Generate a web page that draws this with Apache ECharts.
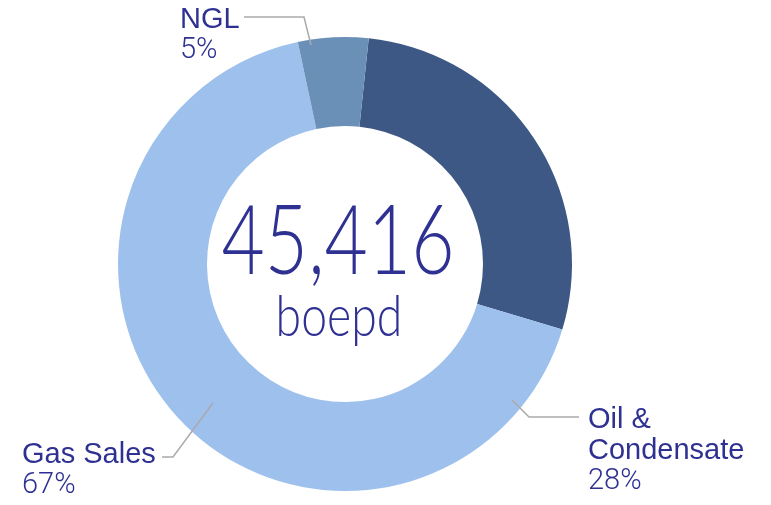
<!DOCTYPE html>
<html>
<head>
<meta charset="utf-8">
<script src="https://cdn.jsdelivr.net/npm/echarts@6/dist/echarts.min.js"></script>
<style>
  html, body { margin: 0; padding: 0; background: #fff; }
  #chart { width: 771px; height: 505px; }
</style>
</head>
<body>
<div id="chart"></div>
<script>
// production mix, share of total (%)
var categories = ['Oil &\nCondensate', 'Gas Sales', 'NGL'];
var shares = [28, 67, 5];
var totalLabel = '45,416';
var unitLabel = 'boepd';

var sliceColors = ['#3d5885', '#9ec0ed', '#6a90b8'];
var textColor = '#2e3192';

// where each label sits and how its leader line runs (layout only)
var labelSpots = [
    {x: 588, y: 404, line: [[512, 400], [529, 417], [579, 417]]},
    {x: 22, y: 439, line: [[213, 403], [173, 457], [162, 457]]},
    {x: 180, y: 4, line: [[311, 45], [304, 17], [244, 17]]}
];

var chart = echarts.init(document.getElementById('chart'));

var pieData = categories.map(function (name, i) {
    return {name: name, value: shares[i], itemStyle: {color: sliceColors[i]}};
});

// leader lines drawn on top of the ring
var leaderLines = labelSpots.map(function (s) {
    return {
        type: 'polyline',
        z: 100,
        silent: true,
        shape: {points: s.line},
        style: {stroke: '#aaaaaa', lineWidth: 1.5, fill: null}
    };
});

var option = {
    animation: false,
    series: [{
        type: 'pie',
        center: [345, 264],
        radius: [138, 227],
        startAngle: 84,
        clockwise: true,
        data: pieData,
        emphasis: {disabled: true},
        label: {
            show: true,
            position: 'outside',
            overflow: 'none',
            formatter: '{n|{b}}\n{p|{d}%}',
            rich: {
                n: {fontFamily: 'Liberation Sans', fontSize: 29, color: textColor, lineHeight: 31},
                p: {fontFamily: 'Roboto', fontWeight: 300, fontSize: 29, color: textColor, lineHeight: 31}
            }
        },
        labelLine: {show: false},
        labelLayout: function (params) {
            var s = labelSpots[params.dataIndex];
            return {
                x: s.x,
                y: s.y,
                align: 'left',
                verticalAlign: 'top',
                width: 200
            };
        }
    }],
    graphic: leaderLines.concat([
        {
            type: 'text',
            x: 338,
            y: 243,
            scaleX: 0.77,
            style: {
                text: totalLabel,
                fontFamily: 'Lato',
                fontWeight: 300,
                fontSize: 97,
                fill: textColor,
                align: 'center',
                verticalAlign: 'middle'
            }
        },
        {
            type: 'text',
            x: 339,
            y: 317,
            scaleX: 0.8,
            style: {
                text: unitLabel,
                fontFamily: 'Lato',
                fontWeight: 300,
                fontSize: 58,
                fill: textColor,
                align: 'center',
                verticalAlign: 'middle'
            }
        }
    ])
};

chart.setOption(option);
</script>
</body>
</html>
